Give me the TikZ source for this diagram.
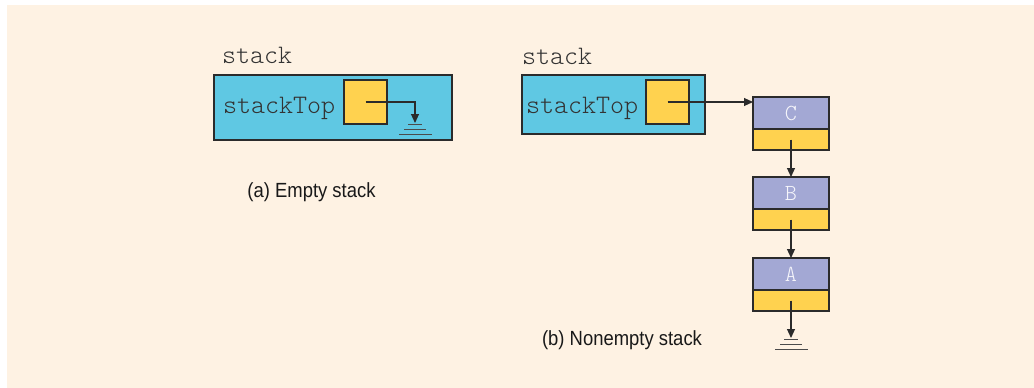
\documentclass[tikz,border=0pt]{standalone}
\usepackage{fontspec}
\setmonofont{Latin Modern Mono Light}
\newfontfamily\capfont[FakeStretch=0.9]{Liberation Sans}
\usetikzlibrary{positioning,arrows.meta,calc}
\definecolor{bgcream}{HTML}{FEF2E3}
\definecolor{stackcyan}{HTML}{5FC8E3}
\definecolor{ptryellow}{HTML}{FFD24F}
\definecolor{infopurple}{HTML}{A3A8D4}
\definecolor{lineblack}{HTML}{2B2B2B}
\begin{document}
\begin{tikzpicture}[x=1pt, y=-1pt,
  every node/.style={inner sep=0pt, outer sep=0pt},
  outline/.style={draw=lineblack, line width=1.1pt},
  stackbox/.style={outline, fill=stackcyan, anchor=north west},
  ptrbox/.style={outline, fill=ptryellow, minimum width=43pt,
    minimum height=44pt, anchor=north west},
  infopart/.style={outline, fill=infopurple, minimum width=76pt,
    minimum height=32pt, anchor=north west, text=white!90!infopurple,
    font=\ttfamily\fontsize{23}{26}\selectfont},
  linkpart/.style={outline, fill=ptryellow, minimum width=76pt,
    minimum height=21pt},
  monotext/.style={font=\ttfamily\fontsize{26.7}{30}\selectfont,
    text=black!80, anchor=base west},
  captext/.style={font=\capfont\fontsize{20.5}{24}\selectfont, text=black!90},
  link/.style={draw=lineblack, line width=1.1pt,
    -{Triangle[length=9pt,width=8pt]}}]
  \useasboundingbox (0,0) rectangle (1034,388);
  \fill[bgcream] (7,5) rectangle (1034,388);
  % empty stack
  \node[stackbox, minimum width=238pt, minimum height=65pt] (stackA) at (214,75) {};
  \node[ptrbox] (ptrA) at (344,80) {};
  \node[monotext] (nameA) at (222,63) {stack};
  \node[monotext] (topA) at (223,113) {stackTop};
  \coordinate (groundA) at (415,123);
  \node[captext] (capA) at (311.5,192) {(a) Empty stack};
  % nonempty stack
  \node[stackbox, minimum width=183pt, minimum height=59pt] (stackB) at (522,75) {};
  \node[ptrbox] (ptrB) at (646,80) {};
  \node[monotext] (nameB) at (522,64) {stack};
  \node[monotext] (topB) at (526,113) {stackTop};
  \foreach \n/\y in {C/97, B/177, A/258}{
    \node[infopart] (info\n) at (753,\y) {\n};
    \node[linkpart, below=0pt of info\n] (link\n) {};}
  \coordinate (groundB) at (791,338);
  \node[captext] (capB) at (622,340) {(b) Nonempty stack};
  % pointers
  \draw[link] (ptrA.center) -| (groundA);
  \draw[link] (ptrB.center) -- (ptrB.center -| infoC.west);
  \draw[link] (linkC.center) -- (infoB.north);
  \draw[link] (linkB.center) -- (infoA.north);
  \draw[link] (linkA.center) -- (groundB);
  % ground marks
  \foreach \g in {groundA, groundB}{
    \draw[lineblack!85, line width=1pt]
      ($(\g)+(-7,1)$) -- ++(14,0)
      ($(\g)+(-11,6)$) -- ++(22,0)
      ($(\g)+(-16,11)$) -- ++(33,0);}
\end{tikzpicture}
\end{document}
